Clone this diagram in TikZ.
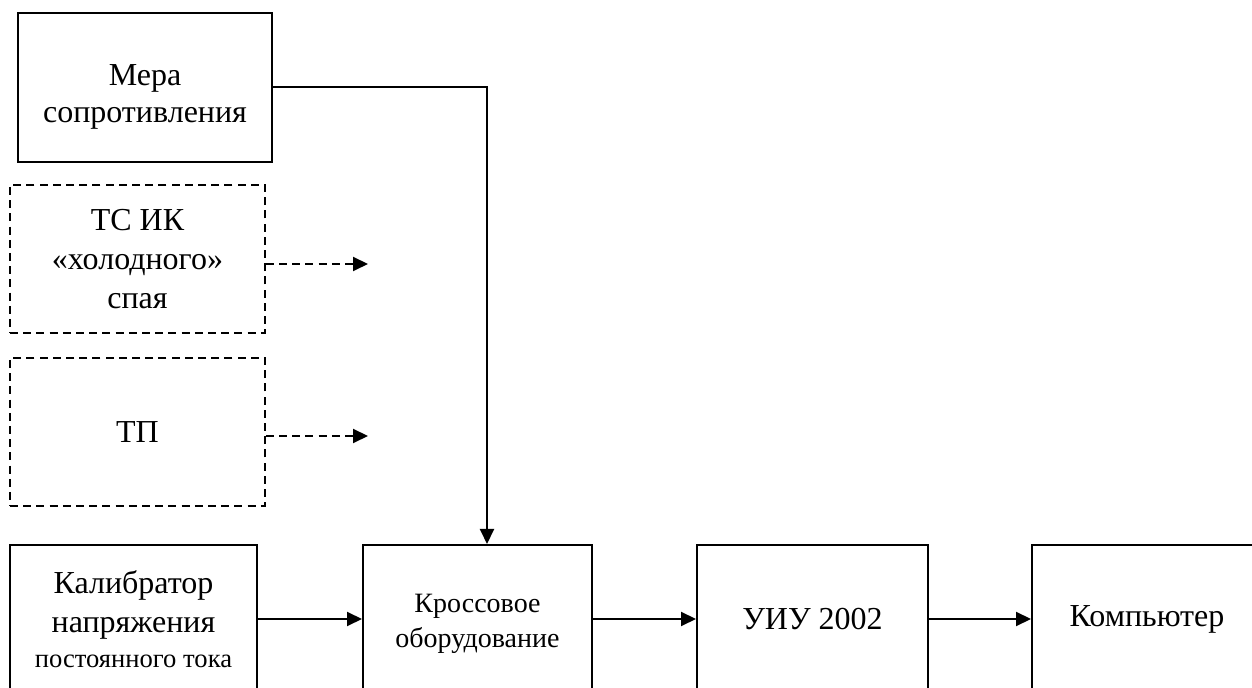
\documentclass[tikz,border=0pt]{standalone}
\usepackage{fontspec}
\setmainfont{Liberation Serif}
\usepackage{tikz}
\usetikzlibrary{arrows.meta}

\tikzset{
  blk/.style={draw,line width=1pt,inner sep=0pt,align=center,font=\fontsize{16}{19.5}\selectfont},
  dblk/.style={blk,dash pattern=on 4pt off 2.6pt,line width=0.8pt},
  txt/.style={inner sep=0pt,align=center},
  link/.style={line width=1pt,-{Triangle[length=7.5pt,width=7pt]}},
  dlink/.style={link,dash pattern=on 4pt off 2.6pt}
}

\begin{document}
\begin{tikzpicture}[x=0.5pt,y=-0.5pt]
  \useasboundingbox (0,0) rectangle (1252,688);

  \node[blk,minimum width=127pt,minimum height=74.5pt,
    label={[txt,font=\fontsize{16}{18.5}\selectfont,yshift=-4.5pt]center:Мера\\сопротивления}] (mera) at (145,87.5) {};
  \node[dblk,minimum width=127.5pt,minimum height=74pt] (ts) at (137.5,259) {ТС ИК\\«холодного»\\спая};
  \node[dblk,minimum width=127.5pt,minimum height=74pt] (tp) at (137.5,432) {ТП};
  \node[blk,minimum width=123.5pt,minimum height=74pt] (kal) at (133.5,619)
    {Калибратор\\напряжения\\[-2pt]{\fontsize{13.3}{16}\selectfont постоянного тока}};
  \node[blk,minimum width=114.5pt,minimum height=74pt,
    label={[txt,font=\fontsize{14}{17.5}\selectfont,yshift=-2.5pt]center:Кроссовое\\оборудование}] (kross) at (477.5,619) {};
  \node[blk,minimum width=115.5pt,minimum height=74pt] (uiu) at (812.5,619) {УИУ 2002};
  \node[blk,minimum width=115pt,minimum height=74pt] (komp) at (1147,619) {Компьютер};

  \coordinate (tsend) at (368,264);
  \coordinate (tpend) at (368,436);

  \draw[link] (mera.east) -| ([xshift=4.75pt]kross.north);
  \draw[dlink] (ts.east |- tsend) -- (tsend);
  \draw[dlink] (tp.east |- tpend) -- (tpend);
  \draw[link] (kal) -- (kross);
  \draw[link] (kross) -- (uiu);
  \draw[link] (uiu) -- (komp);
\end{tikzpicture}
\end{document}
